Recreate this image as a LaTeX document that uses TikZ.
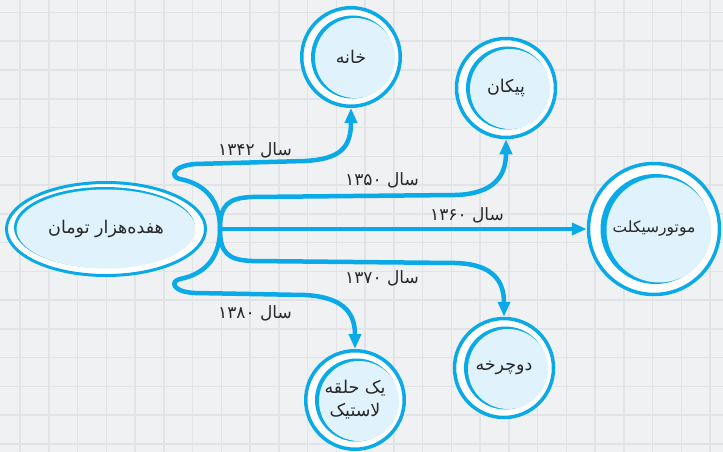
\documentclass[tikz,border=0pt]{standalone}
\usepackage{fontspec}
\usepackage{tikz}
\usetikzlibrary{arrows.meta}
\usetikzlibrary{shapes.geometric}
\newfontfamily\fa[Script=Arabic]{DejaVu Sans}
\TeXXeTstate=1
\definecolor{paper}{RGB}{240,241,243}
\definecolor{gridgray}{RGB}{226,227,231}
\definecolor{skyline}{RGB}{10,170,232}
\definecolor{skyfill}{RGB}{224,242,251}
\definecolor{inkgray}{RGB}{40,40,40}
\tikzset{
  bubble/.style args={#1/#2/#3}{circle, draw=skyline, line width=3.5pt, fill=white,
    minimum size=#1, inner sep=0pt, text=inkgray, font=\fa\fontsize{17.5}{23}\selectfont,
    align=center,
    path picture={
      \fill[skyline] ([xshift=1.5pt]path picture bounding box.center) circle[radius=#2];
      \fill[skyfill] ([xshift=1.5pt+#3,yshift=-1pt]path picture bounding box.center) circle[radius=#2-#3+1pt];
    }},
  yearlabel/.style={text=inkgray, font=\fa\fontsize{17}{20}\selectfont, inner sep=1pt},
  branch/.style={draw=skyline, line width=4.5pt, -{Triangle[length=15pt,width=12pt]}}
}
\begin{document}
\begin{tikzpicture}[x=1pt,y=-1pt]
  \useasboundingbox (0,0) rectangle (723,452);
  \fill[paper] (0,0) rectangle (723,452);
  \foreach \gx in {0,...,24}
    \draw[gridgray, line width=1.5pt] (20+28.75*\gx,0) -- (20+28.75*\gx,452);
  \foreach \gy in {0,...,15}
    \draw[gridgray, line width=1.5pt] (0,12.5+28.75*\gy) -- (723,12.5+28.75*\gy);

  \node[ellipse, draw=skyline, line width=3pt, fill=white, minimum width=199pt,
    minimum height=93pt, inner sep=0pt, text=inkgray, font=\fa\fontsize{17.5}{23}\selectfont,
    path picture={
      \fill[skyline] ([xshift=-1.5pt,yshift=1.5pt]path picture bounding box.center)
        ellipse[x radius=90.5pt, y radius=40.5pt];
      \fill[skyfill] ([yshift=0pt]path picture bounding box.center)
        ellipse[x radius=89.5pt, y radius=39.5pt];
    }] (toman) at (106,229) {\beginR هفده‌هزار تومان\endR};

  \node[bubble=98.5pt/41.5pt/2.5pt] (khane) at (351,57) {\beginR خانه\endR};
  \node[bubble=99pt/41.5pt/2.5pt] (peykan) at (506,88) {\beginR پیکان\endR};
  \node[bubble=131pt/55pt/3.5pt, font=\fa\fontsize{15.5}{20}\selectfont] (motor) at (654,229) {\beginR موتورسیکلت\endR};
  \node[bubble=99pt/41.5pt/2.5pt] (docharkhe) at (504,368) {\beginR دوچرخه\endR};
  \node[bubble=98.5pt/41.5pt/2.5pt] (lastik) at (355,400) {\beginR یک حلقه\endR\\\beginR لاستیک\endR};

  \coordinate (hub) at (220,229);

  \draw[branch] (hub) .. controls (220,200) and (205,184) .. (180,179)
    .. controls (170,177) and (172,166) .. (195,164) -- (305,161)
    .. controls (340,159) and (351,148) .. (khane.south);
  \draw[branch] (hub) .. controls (220,205) and (228,198) .. (252,197) -- (455,195)
    .. controls (495,194) and (506,175) .. (peykan.south);
  \draw[branch] (hub) -- (motor.west);
  \draw[branch] (hub) .. controls (220,253) and (228,260) .. (252,261) -- (455,263)
    .. controls (495,264) and (504,283) .. (docharkhe.north);
  \draw[branch] (hub) .. controls (220,258) and (205,274) .. (180,279)
    .. controls (170,281) and (172,292) .. (195,293) -- (305,295)
    .. controls (340,297) and (355,310) .. (lastik.north);

  \node[yearlabel] (year1342) at (255,150) {\beginR سال ۱۳۴۲\endR};
  \node[yearlabel] (year1350) at (382,180) {\beginR سال ۱۳۵۰\endR};
  \node[yearlabel] (year1360) at (467,215) {\beginR سال ۱۳۶۰\endR};
  \node[yearlabel] (year1370) at (382,278) {\beginR سال ۱۳۷۰\endR};
  \node[yearlabel] (year1380) at (255,313) {\beginR سال ۱۳۸۰\endR};
\end{tikzpicture}
\end{document}
